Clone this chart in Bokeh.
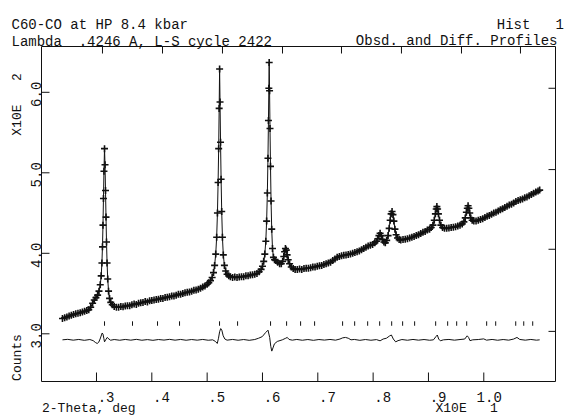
import math
from bokeh.plotting import figure
from bokeh.models import Range1d, Label
from bokeh.embed import file_html
from bokeh.resources import INLINE

# ---------------- data (2-Theta in units of 10 deg, counts in units of 100) -------------
tth = [0.2385, 0.2425, 0.2465, 0.2505, 0.2545, 0.2585, 0.2625, 0.2665, 0.2705, 0.2745,
       0.2785, 0.2825, 0.2860, 0.2895, 0.2930, 0.2960, 0.2990, 0.3020, 0.3045, 0.3068,
       0.3085, 0.3098, 0.3108, 0.3117, 0.3126, 0.3135, 0.3145, 0.3154, 0.3163, 0.3172,
       0.3181, 0.3191, 0.3203, 0.3218, 0.3236, 0.3258, 0.3285, 0.3320, 0.3360,
       0.340, 0.344, 0.348, 0.352, 0.356, 0.360, 0.364, 0.368, 0.372, 0.376,
       0.380, 0.384, 0.388, 0.392, 0.396, 0.400, 0.404, 0.408, 0.412, 0.416,
       0.420, 0.424, 0.428, 0.432, 0.436, 0.440, 0.444, 0.448, 0.452, 0.456,
       0.460, 0.464, 0.468, 0.472, 0.476, 0.480, 0.484, 0.488, 0.492, 0.496, 0.500,
       0.503, 0.506, 0.509, 0.5115, 0.5135, 0.5155, 0.5172, 0.5186, 0.5198, 0.5208,
       0.5217, 0.5225, 0.5233, 0.5242, 0.5252, 0.5263, 0.5276, 0.5292, 0.5312, 0.5335,
       0.5360, 0.5390, 0.5420,
       0.546, 0.550, 0.554, 0.558, 0.562, 0.566, 0.570, 0.574, 0.578, 0.582, 0.586, 0.590,
       0.594, 0.5975, 0.6000, 0.6022, 0.6042, 0.6060, 0.6075, 0.6088, 0.6099, 0.6108,
       0.6115, 0.6121, 0.6128, 0.6136, 0.6145, 0.6155, 0.6167, 0.6181, 0.6198, 0.6218,
       0.6240, 0.6275, 0.6310, 0.6340, 0.6365, 0.6385, 0.6400, 0.6415, 0.6430, 0.6445,
       0.6465, 0.6490, 0.6520, 0.6555, 0.6590,
       0.663, 0.667, 0.671, 0.675, 0.679, 0.683, 0.687, 0.691, 0.695, 0.699,
       0.703, 0.707, 0.711, 0.715, 0.719, 0.723, 0.727, 0.731, 0.735, 0.739,
       0.743, 0.747, 0.751, 0.755, 0.759, 0.763, 0.767, 0.771, 0.775, 0.779,
       0.783, 0.787, 0.791, 0.795, 0.799, 0.803, 0.806, 0.8085, 0.8105, 0.8126,
       0.8147, 0.8170, 0.8195, 0.8220, 0.8245, 0.8270, 0.8290, 0.8308, 0.8325, 0.8342,
       0.8358, 0.8375, 0.8394, 0.8415, 0.8440, 0.8470,
       0.850, 0.854, 0.858, 0.862, 0.866, 0.870, 0.874, 0.878, 0.882, 0.886,
       0.890, 0.894, 0.898, 0.902, 0.905, 0.908, 0.9105, 0.9125, 0.9140, 0.9152,
       0.9165, 0.9180, 0.9200, 0.9225, 0.9255, 0.929, 0.933, 0.937, 0.941, 0.945,
       0.949, 0.953, 0.957, 0.961, 0.964, 0.9665, 0.9685, 0.9702, 0.9716, 0.9730,
       0.9746, 0.9765, 0.979, 0.982, 0.986, 0.990, 0.994, 0.998, 1.002, 1.006,
       1.010, 1.014, 1.018, 1.022, 1.026, 1.030, 1.034, 1.038, 1.042, 1.046,
       1.050, 1.054, 1.058, 1.062, 1.066, 1.070, 1.074, 1.078, 1.082, 1.086,
       1.090, 1.094, 1.098, 1.101]

obs = [3.19, 3.20, 3.21, 3.22, 3.23, 3.24, 3.25, 3.255, 3.26, 3.27,
       3.28, 3.29, 3.30, 3.33, 3.38, 3.42, 3.45, 3.48, 3.53, 3.61,
       3.72, 3.88, 4.08, 4.35, 4.68, 5.02, 5.30, 5.10, 4.78, 4.45,
       4.14, 3.88, 3.68, 3.53, 3.44, 3.39, 3.36, 3.34, 3.33,
       3.33, 3.34, 3.335, 3.345, 3.35, 3.35, 3.36, 3.37, 3.365, 3.38,
       3.385, 3.39, 3.40, 3.395, 3.41, 3.415, 3.42, 3.425, 3.43, 3.44,
       3.44, 3.45, 3.455, 3.46, 3.47, 3.47, 3.48, 3.49, 3.49, 3.50,
       3.51, 3.515, 3.52, 3.53, 3.54, 3.545, 3.555, 3.565, 3.58, 3.595, 3.615,
       3.635, 3.66, 3.70, 3.76, 3.85, 3.99, 4.20, 4.50, 4.88, 5.30,
       5.80, 6.29, 5.88, 5.38, 4.92, 4.52, 4.20, 3.98, 3.85, 3.78,
       3.74, 3.72, 3.71,
       3.70, 3.705, 3.70, 3.705, 3.71, 3.71, 3.72, 3.72, 3.73, 3.735, 3.74, 3.75,
       3.77, 3.80, 3.84, 3.90, 3.99, 4.15, 4.40, 4.75, 5.18, 5.65,
       6.05, 6.37, 6.02, 5.55, 5.08, 4.65, 4.30, 4.06, 3.95, 3.92,
       3.91, 3.89, 3.87, 3.87, 3.90, 3.96, 4.02, 4.06, 4.04, 3.98,
       3.92, 3.87, 3.83, 3.81, 3.80,
       3.80, 3.805, 3.80, 3.81, 3.815, 3.815, 3.82, 3.83, 3.83, 3.84,
       3.845, 3.85, 3.86, 3.87, 3.88, 3.89, 3.91, 3.93, 3.95, 3.96,
       3.97, 3.975, 3.98, 3.985, 3.99, 4.00, 4.01, 4.02, 4.03, 4.045,
       4.06, 4.075, 4.09, 4.10, 4.11, 4.13, 4.15, 4.18, 4.22, 4.25,
       4.22, 4.17, 4.14, 4.13, 4.16, 4.22, 4.31, 4.41, 4.49, 4.52,
       4.48, 4.40, 4.30, 4.23, 4.19, 4.17,
       4.165, 4.17, 4.175, 4.18, 4.19, 4.20, 4.21, 4.22, 4.23, 4.245,
       4.26, 4.27, 4.29, 4.30, 4.32, 4.35, 4.41, 4.49, 4.55, 4.58,
       4.55, 4.49, 4.41, 4.35, 4.32, 4.31, 4.31, 4.315, 4.32, 4.325,
       4.33, 4.34, 4.35, 4.365, 4.39, 4.44, 4.51, 4.56, 4.59, 4.56,
       4.50, 4.44, 4.41, 4.40, 4.40, 4.41, 4.42, 4.43, 4.445, 4.46,
       4.47, 4.485, 4.50, 4.51, 4.525, 4.54, 4.555, 4.57, 4.585, 4.60,
       4.61, 4.625, 4.645, 4.655, 4.665, 4.675, 4.69, 4.70, 4.715, 4.73,
       4.745, 4.76, 4.775, 4.785]

diff_tth = [0.2385, 0.248, 0.258, 0.268, 0.278, 0.288, 0.294, 0.2985, 0.3013, 0.3040,
            0.3065, 0.3090, 0.3103, 0.3118, 0.3132, 0.3145, 0.3165, 0.3193, 0.3225, 0.3255,
            0.332, 0.342, 0.352, 0.362, 0.372, 0.382, 0.392, 0.402, 0.412, 0.422,
            0.432, 0.442, 0.452, 0.462, 0.472, 0.482, 0.492, 0.502, 0.510, 0.5150,
            0.5183, 0.5205, 0.5225, 0.5245, 0.5265, 0.5290, 0.5320, 0.5360, 0.546, 0.556,
            0.566, 0.576, 0.586, 0.5930, 0.5996, 0.6056, 0.6100, 0.6130, 0.6150, 0.6168,
            0.6190, 0.6215, 0.6268, 0.6358, 0.6420, 0.6448, 0.6480, 0.6539, 0.662, 0.672,
            0.682, 0.692, 0.702, 0.712, 0.722, 0.732, 0.740, 0.745, 0.750, 0.755,
            0.760, 0.766, 0.776, 0.786, 0.796, 0.806, 0.8126, 0.8180, 0.8240, 0.8300,
            0.8330, 0.8365, 0.8407, 0.8450, 0.852, 0.862, 0.872, 0.882, 0.892, 0.902,
            0.909, 0.9135, 0.9160, 0.9185, 0.9215, 0.927, 0.937, 0.947, 0.957, 0.9655,
            0.9700, 0.9725, 0.9750, 0.980, 0.990, 0.9998, 1.005, 1.015, 1.025, 1.035,
            1.045, 1.054, 1.060, 1.065, 1.075, 1.085, 1.095, 1.101]

diff_obs = [0.0, 0.006, -0.004, 0.005, -0.006, 0.004, -0.01, -0.035, -0.045, -0.03,
            0.01, 0.06, 0.085, 0.07, 0.02, -0.025, 0.0, 0.03, 0.01, -0.005,
            0.004, -0.005, 0.005, -0.004, 0.006, -0.005, 0.003, -0.006, 0.004, -0.003,
            0.006, -0.004, 0.005, -0.005, 0.004, -0.004, 0.005, -0.005, 0.0, -0.02,
            -0.045, 0.02, 0.10, 0.14, 0.12, 0.05, 0.01, -0.004, 0.005, -0.005,
            0.004, -0.006, 0.004, 0.02, 0.04, 0.09, 0.12, 0.03, -0.08, -0.14,
            -0.10, -0.05, -0.02, 0.0, 0.02, 0.03, 0.005, -0.004, 0.005, -0.005,
            0.004, -0.006, 0.004, -0.003, 0.005, -0.004, 0.01, 0.025, 0.03, 0.02,
            0.0, 0.005, -0.006, 0.004, -0.005, 0.003, -0.012, 0.01, 0.02, 0.05,
            0.06, 0.01, -0.025, -0.01, 0.004, -0.005, 0.005, -0.004, 0.004, -0.005,
            0.0, 0.04, 0.06, 0.01, -0.012, 0.0, 0.005, -0.004, 0.004, 0.01,
            0.05, 0.03, -0.01, 0.0, 0.004, 0.012, -0.004, 0.005, -0.005, 0.004,
            -0.004, 0.01, 0.03, 0.005, -0.004, 0.005, -0.004, 0.0]

refl_tth = [0.3145, 0.3651, 0.4103, 0.4501, 0.5224, 0.5550, 0.6146, 0.6436, 0.6689, 0.6942,
            0.7448, 0.7666, 0.7901, 0.8118, 0.8335, 0.8533, 0.8750, 0.9130, 0.9347, 0.9510,
            0.9691, 1.0052, 1.0215, 1.0577, 1.0722, 1.0884]

x_ticks = [0.3, 0.4, 0.5, 0.6, 0.7, 0.8, 0.9, 1.0]
x_tick_labels = [".3", ".4", ".5", ".6", ".7", ".8", ".9", "1.0"]
top_ticks = [0.3108, 0.4193, 0.5277, 0.6362, 0.7428, 0.8512, 0.9597, 1.0663]
y_ticks = [3.0, 4.0, 5.0, 6.0]
y_tick_labels = ["3.0", "4.0", "5.0", "6.0"]
right_ticks = [3.03, 4.05, 5.04, 6.05]

diff_offset = 2.925
refl_lo, refl_hi = 3.10, 3.155

NB = "\u00a0"  # keeps runs of spaces in the monospaced texts

# ---------------- layout ----------------
W, H = 564, 417
FL, FT, FR, FB = 41, 46, 555, 381          # plot box in canvas pixels
X0, X1 = 0.2006, 1.1296                    # axis limits of the plot box
Y0, Y1 = 2.4075, 6.569
sx = (FR - FL) / (X1 - X0)
sy = (FB - FT) / (Y1 - Y0)

p = figure(width=W, height=H,
           x_range=Range1d(X0 - FL / sx, X1 + (W - FR) / sx),
           y_range=Range1d(Y0 - (H - FB) / sy, Y1 + FT / sy),
           output_backend="svg", toolbar_location=None,
           x_axis_location=None, y_axis_location=None,
           min_border=0, min_border_left=0, min_border_right=0,
           min_border_top=0, min_border_bottom=0)
p.grid.grid_line_color = None
p.outline_line_color = None
p.background_fill_color = "white"
p.border_fill_color = "white"

INK = "#111111"
FONT = "Liberation Mono"

# plot box
p.quad(left=[X0], right=[X1], bottom=[Y0], top=[Y1], fill_color=None,
       line_color=INK, line_width=1)

# observed (+) and calculated line
p.line(tth, obs, line_color=INK, line_width=1)
p.scatter(tth, obs, marker="cross", size=7, line_color=INK, line_width=1.6)

# difference curve
p.line(diff_tth, [diff_offset + d for d in diff_obs], line_color=INK, line_width=1)

# reflection markers
p.segment(x0=refl_tth, y0=[refl_lo] * len(refl_tth), x1=refl_tth, y1=[refl_hi] * len(refl_tth),
          line_color=INK, line_width=1)

# inward ticks of the box
p.segment(x0=x_ticks, y0=[Y0] * len(x_ticks), x1=x_ticks, y1=[Y0 + 9 / sy] * len(x_ticks),
          line_color=INK, line_width=1)
p.segment(x0=top_ticks, y0=[Y1] * len(top_ticks), x1=top_ticks, y1=[Y1 - 7 / sy] * len(top_ticks),
          line_color=INK, line_width=1)
p.segment(x0=[X0] * len(y_ticks), y0=y_ticks, x1=[X0 + 8 / sx] * len(y_ticks), y1=y_ticks,
          line_color=INK, line_width=1)
p.segment(x0=[X1] * len(right_ticks), y0=right_ticks, x1=[X1 - 7 / sx] * len(right_ticks),
          y1=right_ticks, line_color=INK, line_width=1)


def lab(text, x, y, dx, dy, size="14px", align="left", angle=0.0):
    p.add_layout(Label(x=x, y=y, x_units="data", y_units="data", x_offset=dx, y_offset=dy,
                       text=text, text_font=FONT, text_font_size=size, text_color=INK,
                       text_align=align, text_baseline="alphabetic", angle=angle))


# tick labels
for t, s in zip(x_ticks, x_tick_labels):
    lab(s, t, Y0, 18, -15.2, align="right")
for t, s in zip(y_ticks, y_tick_labels):
    lab(s, X0, t, -6, -2, align="center", angle=math.pi / 2)

# header texts
lab("C60-CO at HP 8.4 kbar", X0, Y1, -30, 21.5)
lab("Lambda" + NB * 2 + ".4246 A, L-S cycle 2422", X0, Y1, -30, 4.5)
lab("Hist" + NB * 3 + "1", X1, Y1, 8.5, 22, align="right")
lab("Obsd. and Diff. Profiles", X1, Y1, 2, 5.3, align="right")

# axis titles
lab("2-Theta, deg", X0, Y0, 0.5, -26.5, size="13px")
lab("X10E" + NB * 3 + "1", X0, Y0, 394, -26.5, size="13px")
lab("X10E" + NB * 3 + "2", X0, Y1, -24.3, -58, size="13px", align="center", angle=math.pi / 2)
lab("Counts", X0, Y0, -24.3, 24, size="13px", align="center", angle=math.pi / 2)

open("out.html", "w").write(file_html(p, INLINE))
